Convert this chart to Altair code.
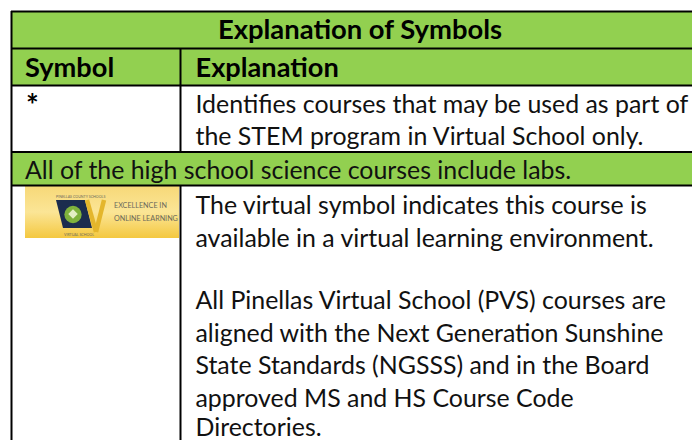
import altair as alt
import pandas as pd

# ---- text content ----
TITLE = "Explanation of Symbols"
HEAD_1 = "Symbol"
HEAD_2 = "Explanation"
STAR = "*"
BODY_LINES = [
    "Identifies courses that may be used as part of",
    "the STEM program in Virtual School only.",
    "The virtual symbol indicates this course is",
    "available in a virtual learning environment.",
    "All Pinellas Virtual School (PVS) courses are",
    "aligned with the Next Generation Sunshine",
    "State Standards (NGSSS) and in the Board",
    "approved MS and HS Course Code",
    "Directories.",
]
LABS = "All of the high school science courses include labs."
LOGO_WORDS = ["EXCELLENCE IN", "ONLINE LEARNING"]
LOGO_SMALL = ["PINELLAS COUNTY SCHOOLS", "VIRTUAL SCHOOL"]

# ---- table grid, in page units ----
PAGE_X = [8, 692]
PAGE_Y = [8, 440]
RIGHT = 692
GREEN_BANDS = [(11, 48), (48, 85), (152, 185)]
H_RULES = [11.5, 48.5, 85.5, 152, 185.5]
V_RULES_FULL = [(11.5, 11, 440), (180.5, 48, 152), (180.5, 185, 440)]
COL1 = 25
COL2 = 195.5
BODY_BASE = [113, 145, 214, 247, 309, 342, 374, 407, 436]
FONT = "Lato"
INK = "#111111"

x = alt.X("x:Q", scale=alt.Scale(domain=PAGE_X, range=[0, 684], nice=False, zero=False), axis=None)
x2 = alt.X2("x2:Q")
y = alt.Y("y:Q", scale=alt.Scale(domain=PAGE_Y, range=[0, 432], nice=False, zero=False), axis=None)
y2 = alt.Y2("y2:Q")

bands = pd.DataFrame([{"x": 11, "x2": RIGHT, "y": a, "y2": b} for a, b in GREEN_BANDS])
green = alt.Chart(bands).mark_rect(color="#92D050").encode(x=x, x2=x2, y=y, y2=y2)

hr = pd.DataFrame([{"x": 11, "x2": RIGHT, "y": v, "y2": v} for v in H_RULES])
hrules = alt.Chart(hr).mark_rule(color="#000000", strokeWidth=2).encode(x=x, x2=x2, y=y)
vr = pd.DataFrame([{"x": a, "y": b, "y2": c} for a, b, c in V_RULES_FULL])
vrules = alt.Chart(vr).mark_rule(color="#000000", strokeWidth=2).encode(x=x, y=y, y2=y2)


def text_layer(rows, size, weight="normal", align="left", color=INK, font=FONT, **kw):
    return alt.Chart(pd.DataFrame(rows)).mark_text(
        font=font, fontSize=size, fontWeight=weight, align=align, baseline="alphabetic", color=color, **kw
    ).encode(x=x, y=y, text="t:N")


title = text_layer([{"x": 360, "y": 39, "t": TITLE}], 27.4, "bold", "center", "#000000")
heads = text_layer(
    [{"x": COL1, "y": 77, "t": HEAD_1}, {"x": COL2, "y": 77, "t": HEAD_2}], 27.2, "bold", color="#000000"
)
star = text_layer([{"x": 26, "y": 116, "t": STAR}], 30, "bold", color="#000000")
body = text_layer([{"x": COL2, "y": b, "t": t} for b, t in zip(BODY_BASE, BODY_LINES)], 24.9)
labs = text_layer([{"x": COL1, "y": 179, "t": LABS}], 24.9)

# ---- logo ----
logo_bg = (
    alt.Chart(pd.DataFrame([{"x": 25, "x2": 179, "y": 186, "y2": 238}]))
    .mark_rect(
        fill=alt.Gradient(
            gradient="linear",
            x1=0, y1=0, x2=0, y2=1,
            stops=[
                alt.GradientStop(color="#F7D878", offset=0),
                alt.GradientStop(color="#FBE596", offset=0.5),
                alt.GradientStop(color="#F4C840", offset=1),
            ],
        )
    )
    .encode(x=x, x2=x2, y=y, y2=y2)
)
shield = (
    alt.Chart(pd.DataFrame([
        {"x": 56, "y": 200, "y2": 200},
        {"x": 63, "y": 200, "y2": 228},
        {"x": 85, "y": 200, "y2": 228},
        {"x": 92, "y": 228, "y2": 228},
    ]))
    .mark_area(color="#1B2C4E")
    .encode(x=x, y=y, y2=y2)
)
vee = (
    alt.Chart(pd.DataFrame([
        {"x": 87, "y": 200, "g": "a"}, {"x": 96, "y": 232, "g": "a"},
        {"x": 96, "y": 232, "g": "b"}, {"x": 104, "y": 200, "g": "b"},
    ]))
    .mark_line(color="#E4B62C", strokeWidth=4.5)
    .encode(x=x, y=y, detail="g:N")
)
badge = (
    alt.Chart(pd.DataFrame([{"x": 73, "y": 214.5}]))
    .mark_point(filled=True, shape="circle", size=300, color="#7FB23C", opacity=1)
    .encode(x=x, y=y)
)
flame = (
    alt.Chart(pd.DataFrame([{"x": 73, "y": 214}]))
    .mark_point(filled=True, shape="diamond", size=90, color="#E4EFC4", opacity=1)
    .encode(x=x, y=y)
)
logo_txt = text_layer(
    [{"x": 114, "y": 208, "t": LOGO_WORDS[0]}, {"x": 114, "y": 221, "t": LOGO_WORDS[1]}],
    7.2, color="#6B695C",
)
logo_top = text_layer([{"x": 56, "y": 198, "t": LOGO_SMALL[0]}], 3.6, color="#6B695C")
logo_bot = text_layer([{"x": 64, "y": 236, "t": LOGO_SMALL[1]}], 3.6, color="#6B695C")

chart = (
    alt.layer(
        green, logo_bg, shield, vee, badge, flame, logo_txt, logo_top, logo_bot,
        hrules, vrules, title, heads, star, body, labs,
    )
    .properties(width=684, height=432, padding=0, background="#FFFFFF", autosize=alt.AutoSizeParams(type="none"))
    .configure_view(stroke=None)
)
chart.save("out.html", embed_options={"renderer": "svg", "actions": False})
